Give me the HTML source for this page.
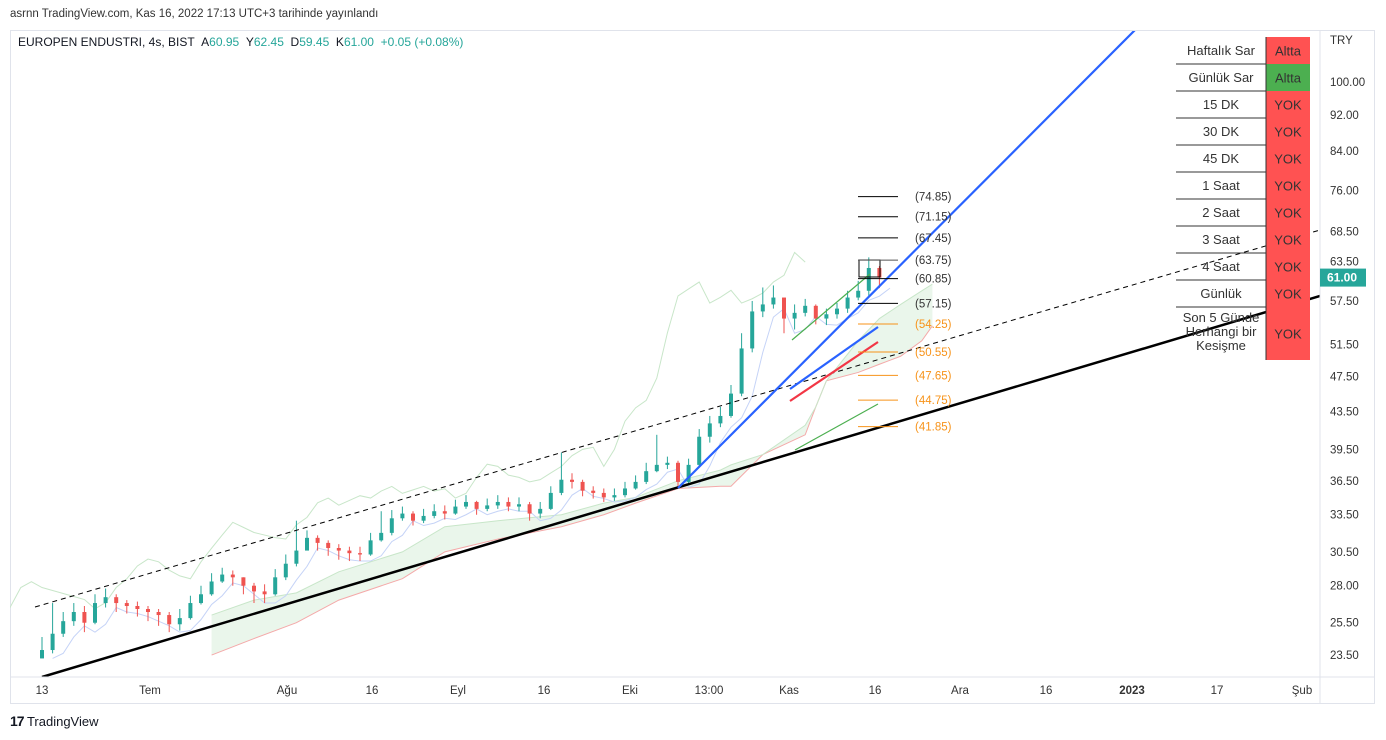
<!DOCTYPE html>
<html><head><meta charset="utf-8">
<style>
body{margin:0;width:1386px;height:740px;background:#fff;font-family:"Liberation Sans",sans-serif;overflow:hidden;position:relative}
.t{position:absolute;white-space:nowrap}
</style></head>
<body>
<div class="t" style="left:10px;top:8px;font-size:11.5px;color:#333">asrnn TradingView.com, Kas 16, 2022 17:13 UTC+3 tarihinde yayınlandı</div>
<div style="position:absolute;left:10px;top:30px;width:1365px;height:674px;border:1px solid #e0e3eb;box-sizing:border-box"></div>
<div class="t" style="left:18px;top:35px;font-size:12px;color:#131722">EUROPEN ENDUSTRI, 4s, BIST &nbsp;A<span style="color:#26a69a">60.95</span> &nbsp;Y<span style="color:#26a69a">62.45</span> &nbsp;D<span style="color:#26a69a">59.45</span> &nbsp;K<span style="color:#26a69a">61.00</span> &nbsp;<span style="color:#26a69a">+0.05 (+0.08%)</span></div>
<svg id="chart" width="1386" height="740" style="position:absolute;left:0;top:0"></svg>
<div class="t" style="left:10px;top:713px;font-size:13px;color:#131722"><b style="font-size:14px;letter-spacing:-1px">17</b> TradingView</div>
<script>
const closes=[23.8,24.8,25.6,26.2,25.5,26.8,27.2,26.8,26.6,26.4,26.2,26.0,25.4,25.8,26.8,27.4,28.3,28.8,28.6,28.0,27.6,27.4,28.6,29.6,30.6,31.6,31.2,30.8,30.6,30.4,30.3,31.4,32.0,33.2,33.6,33.0,33.4,33.8,33.6,34.2,34.6,34.0,34.3,34.6,34.2,34.4,33.6,34.0,35.4,36.6,36.4,35.6,35.4,35.0,35.2,35.8,36.4,37.4,38.0,38.2,36.4,38.0,40.8,42.2,43.0,45.5,51.0,56.0,57.0,58.0,55.0,55.8,56.8,55.0,55.6,56.4,58.0,59.0,62.5,61.0];
const highs=[24.6,26.8,26.2,26.8,26.6,27.4,27.8,27.4,27.0,26.9,26.6,26.4,26.2,26.4,27.3,28.0,28.9,29.3,29.1,28.6,28.2,28.1,29.2,30.3,33.0,32.2,31.8,31.4,31.1,30.9,30.9,32.0,33.8,33.9,34.2,33.8,34.0,34.4,34.3,34.8,35.2,34.7,34.9,35.2,35.0,35.0,34.6,34.6,36.0,39.2,37.2,36.6,36.0,35.8,35.8,36.4,37.0,38.2,41.0,38.8,38.4,38.6,41.6,43.0,44.0,46.5,53.0,57.5,59.5,59.8,58.0,57.0,57.8,57.0,56.4,57.2,59.0,60.5,64.2,62.8];
const lows=[23.3,23.6,24.6,25.3,24.9,25.4,26.5,26.2,26.1,25.9,25.6,25.3,24.9,25.0,25.7,26.7,27.3,28.2,28.0,27.4,26.8,26.8,27.3,28.4,29.4,30.8,30.6,30.2,29.9,29.8,29.8,30.2,31.3,31.8,33.0,32.6,32.8,33.2,33.1,33.5,34.0,33.5,33.8,34.0,33.8,33.8,33.0,33.2,33.9,35.2,35.8,35.1,34.9,34.6,34.7,35.0,35.7,36.2,37.3,37.6,35.9,36.2,37.9,40.2,41.8,42.8,45.2,50.5,55.2,56.4,53.0,53.5,55.3,54.2,54.1,55.0,55.8,57.6,58.2,59.4];
const cloudIdx=[16,20,24,28,34,38,43,49,53,56,60,64,65,68,72,73,74,77,79,81,83,84];
const spanA=[26,27,27.5,29,30.5,32.5,33,33.5,34.5,35,36.5,37.5,38,39,42,44,47,52,55,57,59,60];
const spanB=[23.5,24.5,25.5,27,28.5,30.5,31.5,32.5,33.5,34.5,35.8,36,36,39,41,44,47,48,49,50,52,54];
const fibLevels=[74.85,71.15,67.45,63.75,60.85,57.15,54.25,50.55,47.65,44.75,41.85];
const yTicks=[100,92,84,76,68.5,63.5,57.5,51.5,47.5,43.5,39.5,36.5,33.5,30.5,28,25.5,23.5];
const xLabels=["13","Tem","Ağu","16","Eyl","16","Eki","13:00","Kas","16","Ara","16","2023","17","Şub"];
const xLabelPos=[42,150,287,372,458,544,630,709,789,875,960,1046,1132,1217,1302];
const tableLabels=["Haftalık Sar","Günlük Sar","15 DK","30 DK","45 DK","1 Saat","2 Saat","3 Saat","4 Saat","Günlük","Son 5 Günde Herhangi bir Kesişme"];
const tableValues=["Altta","Altta","YOK","YOK","YOK","YOK","YOK","YOK","YOK","YOK","YOK"];
const lastPrice=61.00;

const svg=document.getElementById('chart');const NS='http://www.w3.org/2000/svg';
const y=p=>82+(Math.log(100)-Math.log(p))*395.7;
const x=i=>42+i*10.6;
function el(tag,attrs,parent){const e=document.createElementNS(NS,tag);for(const k in attrs)e.setAttribute(k,attrs[k]);(parent||svg).appendChild(e);return e;}
const clip=el('clipPath',{id:'pc'});el('rect',{x:10,y:31,width:1310,height:646},clip);
const g=el('g',{'clip-path':'url(#pc)'});
const ax=el('line',{x1:1320,y1:31,x2:1320,y2:703,stroke:'#e0e3eb'});

const tx=el('line',{x1:10,y1:677,x2:1375,y2:677,stroke:'#e0e3eb'});

let pts=cloudIdx.map((k,j)=>x(k)+','+y(spanA[j])).concat(cloudIdx.map((k,j)=>x(k)+','+y(spanB[j])).reverse());
const cl=el('polygon',{points:pts.join(' '),fill:'#e8f5e9',opacity:0.9},g);

const sb=el('polyline',{points:cloudIdx.map((k,j)=>x(k)+','+y(spanB[j])).join(' '),fill:'none',stroke:'#f4a9a9','stroke-width':1},g);

const sa=el('polyline',{points:cloudIdx.map((k,j)=>x(k)+','+y(spanA[j])).join(' '),fill:'none',stroke:'#c8e6c9','stroke-width':1},g);

const lag=el('polyline',{points:closes.map((c,i)=>(x(i-7))+','+y(c*1.04)).join(' '),fill:'none',stroke:'#c8e6c9','stroke-width':1},g);

const kj=el('polyline',{points:lows.map((c,i)=>x(i+1)+','+y(c)).join(' '),fill:'none',stroke:'#c5d3f7','stroke-width':1},g);

closes.forEach((c,i)=>{const o=i?closes[i-1]:lows[0];const up=c>=o;const col=up?'#26a69a':'#ef5350';
 const w=el('line',{x1:x(i),x2:x(i),y1:y(highs[i]),y2:y(lows[i]),stroke:col,'stroke-width':1},g);
 
 const top=y(Math.max(o,c)),bot=y(Math.min(o,c));
 const b=el('rect',{x:x(i)-2,y:top,width:4,height:Math.max(1,bot-top),fill:col},g);
 });
function line(name,x1,y1,x2,y2,stroke,w,dash){const l=el('line',{x1,y1,x2,y2,stroke,'stroke-width':w},g);if(dash)l.setAttribute('stroke-dasharray',dash);
 }
line('support-trendline',42,677,1320,296,'#000',2.5);
line('channel-dashed-line',35,607,1320,230,'#000',1,'5,4');
line('steep-blue-trendline',678,488,1137,28,'#2962ff',2.2);
line('blue-segment',790,389,878,327,'#2962ff',2.2);
line('red-segment',790,401,878,342,'#f23645',2.2);
line('green-segment-top',792,340,870,274,'#4caf50',1.2);
line('green-segment-low',795,450,878,404,'#4caf50',1.2);
const bx=el('rect',{x:859,y:260,width:21,height:17,fill:'none',stroke:'#000','stroke-width':1},g);

fibLevels.forEach((v,i)=>{const col=i<6?(i==3?'#555':'#000'):'#f7931a';
 const l=el('line',{x1:858,x2:898,y1:y(v),y2:y(v),stroke:col,'stroke-width':1},g);
 
 const t=el('text',{x:915,y:y(v)+4,'font-size':11.5,fill:i<6?'#333':'#f7931a','font-family':'Liberation Sans'},g);t.textContent='('+v.toFixed(2)+')';
 });
const cur=el('text',{x:1330,y:44,'font-size':11.5,fill:'#333','font-family':'Liberation Sans'});cur.textContent='TRY';

yTicks.forEach(v=>{const t=el('text',{x:1330,y:y(v)+4,'font-size':11.5,fill:'#333','font-family':'Liberation Sans'});t.textContent=v.toFixed(2);
 });
const tag=el('rect',{x:1320,y:y(lastPrice)-9,width:46,height:18,fill:'#26a69a'});

const tt=el('text',{x:1327,y:y(lastPrice)+4,'font-size':12,'font-weight':'bold',fill:'#fff','font-family':'Liberation Sans'});tt.textContent=lastPrice.toFixed(2);

xLabels.forEach((s,i)=>{const t=el('text',{x:xLabelPos[i],y:694,'font-size':11.5,fill:'#333','text-anchor':'middle','font-family':'Liberation Sans','font-weight':s=='2023'?'bold':'normal'});t.textContent=s;
 });
tableLabels.forEach((s,i)=>{const top=37+i*27,h=i==10?53:27;
 const c=el('rect',{x:1266,y:top,width:44,height:h,fill:tableValues[i]=='Altta'&&i==1?'#4caf50':'#ff5252'});
 
 const v=el('text',{x:1288,y:top+h/2+5,'font-size':13,fill:'#333','text-anchor':'middle','font-family':'Liberation Sans'});v.textContent=tableValues[i];
 
 if(i<10){const ln=el('line',{x1:1176,x2:1266,y1:top+27,y2:top+27,stroke:'#333'});}
 const lines=i==10?['Son 5 Günde','Herhangi bir','Kesişme']:[s];
 lines.forEach((ls,k)=>{const t=el('text',{x:1221,y:top+(i==10?15+k*14:18),'font-size':13,fill:'#333','text-anchor':'middle','font-family':'Liberation Sans'});t.textContent=ls;
 });});
const vd=el('line',{x1:1266,x2:1266,y1:37,y2:360,stroke:'#333'});
</script>
</body></html>
